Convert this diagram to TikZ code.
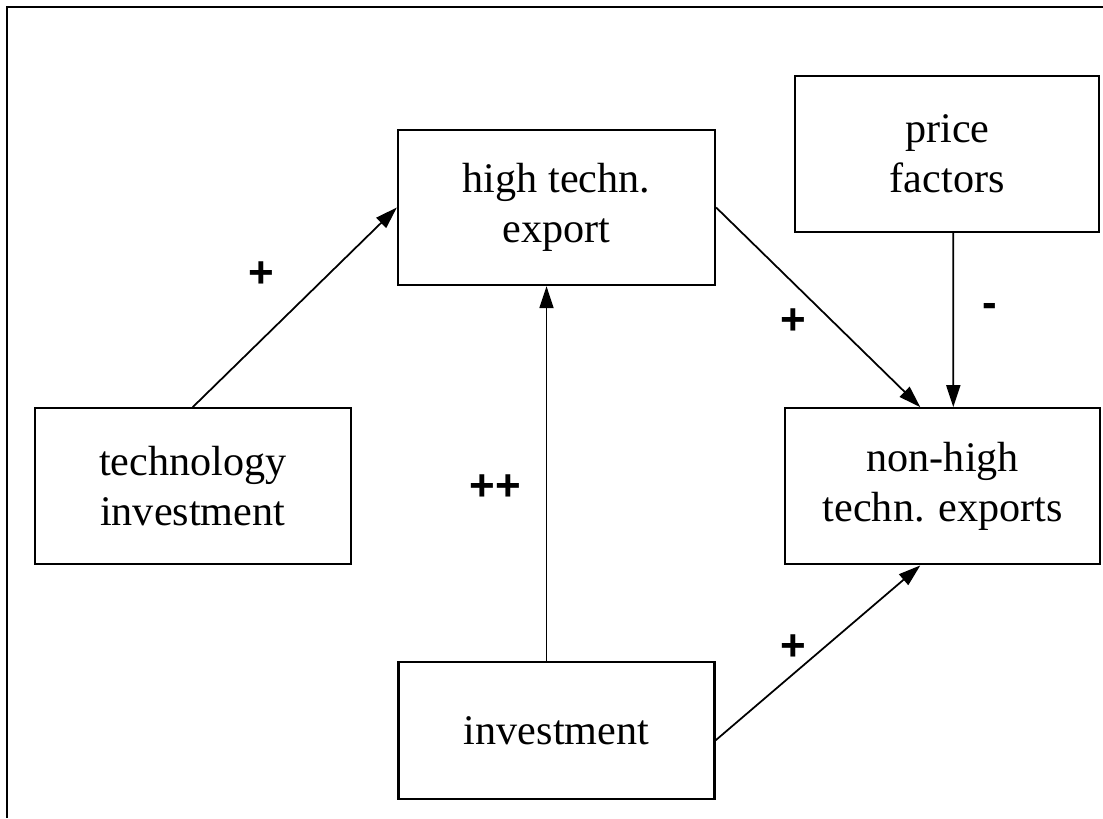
\documentclass[tikz,border=0pt]{standalone}
\usepackage{fontspec}
\setmainfont{Liberation Serif}
\newfontfamily\lblfont{Liberation Sans}
\usepackage{tikz}
\usetikzlibrary{arrows.meta,positioning}

\begin{document}
\begin{tikzpicture}[
  node distance=2cm and 1cm,
  box/.style={draw, line width=1.3pt, minimum width=6.32cm, minimum height=3.12cm, align=center, inner sep=0pt, font=\fontsize{24}{28.5}\selectfont},
  lbl/.style={font=\lblfont\bfseries\fontsize{25}{30}\selectfont, inner sep=0pt},
  arr/.style={-{Triangle[length=0.44cm, width=0.28cm]}, line width=1pt},
  frame/.style={line width=1.4pt}
]
  \useasboundingbox (0,0) rectangle (22.06,-16.36);
  % outer frame (top and left only)
  \draw[frame] (22.06,-0.14) -- (0.14,-0.14) -- (0.14,-16.36);

  \node[box, minimum width=6.34cm, minimum height=3.1cm] (hte) at (11.13,-4.15) {high techn.\\export};
  \node[box, below left=2.42cm and 0.9cm of hte] (techinv) {technology\\investment};
  \node[box, below right=2.42cm and 1.36cm of hte, minimum width=6.3cm] (nonhigh) {non-high\\techn. exports};
  \node[box, above=3.48cm of nonhigh, xshift=0.09cm, minimum width=6.08cm] (price) {price\\factors};
  \node[box, below=7.5cm of hte, minimum height=2.74cm] (inv) {investment};

  \draw[arr] (techinv.north) -- (hte.west);
  \draw[arr] ([xshift=-0.2cm]inv.north) -- ([xshift=-0.2cm]hte.south);
  \draw[arr] (hte.east) -- ([xshift=-0.45cm]nonhigh.north);
  \draw[arr] ([xshift=0.12cm]price.south) -- ([xshift=0.21cm]nonhigh.north);
  \draw[arr] ([yshift=-0.19cm]inv.east) -- ([xshift=-0.45cm]nonhigh.south);

  \node[lbl] (l1) at (5.22,-5.5) {+};
  \node[lbl] (l2) at (9.9,-9.76) {++};
  \node[lbl] (l3) at (15.86,-6.44) {+};
  \node[lbl] (l4) at (19.8,-6.2) {-};
  \node[lbl] (l5) at (15.86,-12.96) {+};
\end{tikzpicture}
\end{document}
